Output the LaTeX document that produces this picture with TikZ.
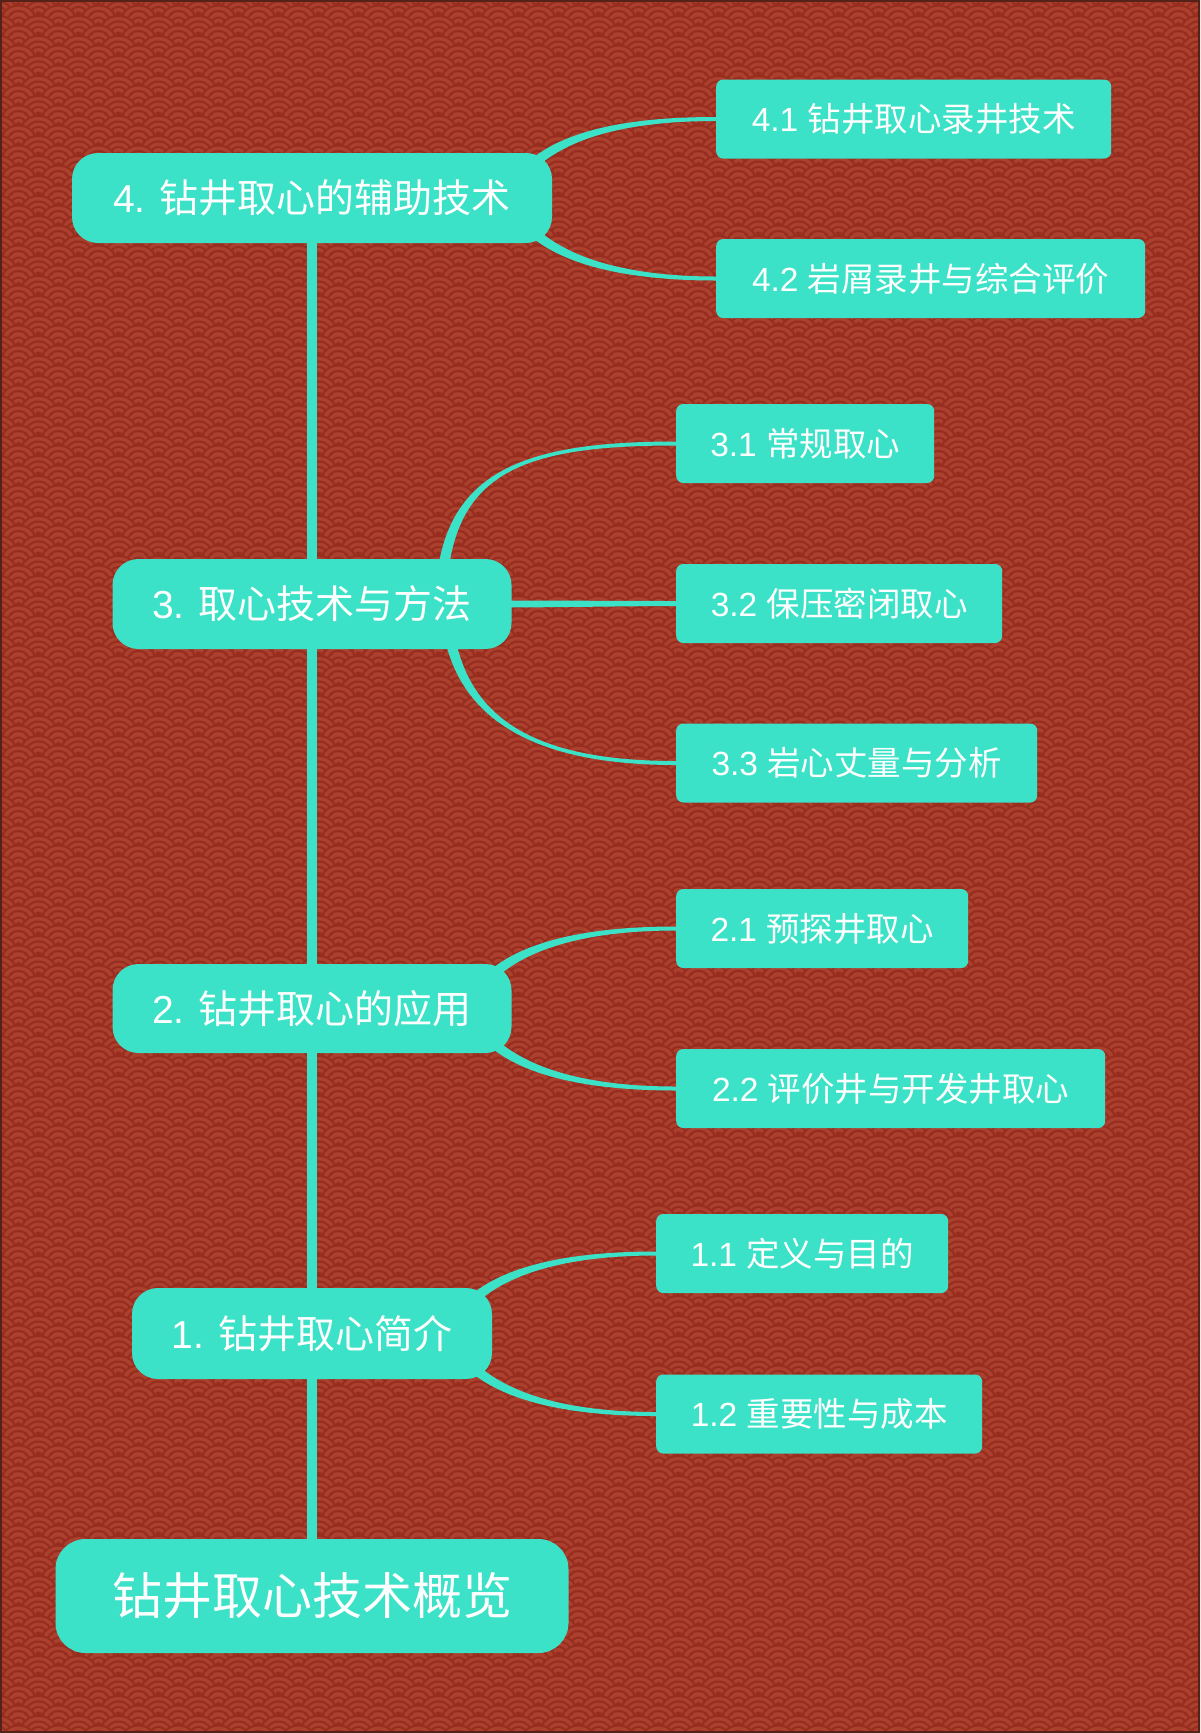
\documentclass[tikz,border=0pt]{standalone}
\usepackage{fontspec}
\setmainfont{Liberation Sans}
\newfontfamily\cjk{Noto Sans CJK SC}
\usetikzlibrary{calc,patterns}
\definecolor{bglight}{RGB}{172,64,46}
\definecolor{bgdark}{RGB}{151,45,31}
\definecolor{teal1}{RGB}{60,226,199}
\definecolor{frame1}{RGB}{84,34,24}
\newcommand\sgunit[2]{%
  \pgfsetfillcolor{bgdark}\pgfpathcircle{\pgfpoint{#1pt}{#2pt}}{20pt}\pgfusepath{fill}%
  \pgfsetfillcolor{bglight}\pgfpathcircle{\pgfpoint{#1pt}{#2pt}}{17.8pt}\pgfusepath{fill}%
  \pgfsetfillcolor{bgdark}\pgfpathcircle{\pgfpoint{#1pt}{#2pt}}{14.2pt}\pgfusepath{fill}%
  \pgfsetfillcolor{bglight}\pgfpathcircle{\pgfpoint{#1pt}{#2pt}}{12pt}\pgfusepath{fill}%
  \pgfsetfillcolor{bgdark}\pgfpathcircle{\pgfpoint{#1pt}{#2pt}}{8.4pt}\pgfusepath{fill}%
  \pgfsetfillcolor{bglight}\pgfpathcircle{\pgfpoint{#1pt}{#2pt}}{6.2pt}\pgfusepath{fill}%
  \pgfsetfillcolor{bgdark}\pgfpathcircle{\pgfpoint{#1pt}{#2pt}}{2.6pt}\pgfusepath{fill}%
}
\pgfdeclarepatterninherentlycolored{seigaiha}{\pgfpointorigin}{\pgfpoint{40pt}{20pt}}{\pgfpoint{40pt}{20pt}}{%
  \pgfsetfillcolor{bglight}%
  \pgfpathrectangle{\pgfpointorigin}{\pgfpoint{40pt}{20pt}}\pgfusepath{fill}%
  \sgunit{0}{40}\sgunit{40}{40}%
  \sgunit{-20}{30}\sgunit{20}{30}\sgunit{60}{30}%
  \sgunit{0}{20}\sgunit{40}{20}%
  \sgunit{-20}{10}\sgunit{20}{10}\sgunit{60}{10}%
  \sgunit{0}{0}\sgunit{40}{0}%
  \sgunit{-20}{-10}\sgunit{20}{-10}\sgunit{60}{-10}%
  \sgunit{0}{-20}\sgunit{40}{-20}%
}
\pgfdeclarelayer{bg}
\pgfsetlayers{bg,main}
% tapered connector: start, control 1, control 2, end, half width at start, half width at end
\newcommand\taper[6]{%
  \path #1 coordinate (tS) #2 coordinate (tA) #3 coordinate (tB) #4 coordinate (tE);
  \coordinate (tS1) at ($(tS)!#5!90:(tA)$);
  \coordinate (tS2) at ($(tS)!#5!-90:(tA)$);
  \coordinate (tE1) at ($(tE)!#6!-90:(tB)$);
  \coordinate (tE2) at ($(tE)!#6!90:(tB)$);
  \coordinate (tA1) at ($(tA)+(tS1)-(tS)$);
  \coordinate (tA2) at ($(tA)+(tS2)-(tS)$);
  \coordinate (tB1) at ($(tB)+(tE1)-(tE)$);
  \coordinate (tB2) at ($(tB)+(tE2)-(tE)$);
  \fill[teal1] (tS1) .. controls (tA1) and (tB1) .. (tE1) -- (tE2) .. controls (tB2) and (tA2) .. (tS2) -- cycle;
}
\begin{document}
\begin{tikzpicture}[x=1pt,y=-1pt,
  lvlbox/.style={fill=teal1,text=white,rounded corners=26pt,inner sep=0pt,font=\fontsize{39}{46}\selectfont},
  leafbox/.style={fill=teal1,text=white,rounded corners=7pt,inner sep=0pt,minimum height=79pt,anchor=west,font=\fontsize{33.5}{40}\selectfont},
  rootbox/.style={fill=teal1,text=white,rounded corners=30pt,inner sep=0pt,font=\fontsize{50}{60}\selectfont},
  trunk/.style={draw=teal1,line width=10pt},
]
\useasboundingbox (0,0) rectangle (1200,1733);

% nodes
\node[rootbox,minimum width=513pt,minimum height=114pt] (root) at (312,1596) {{\cjk 钻井取心技术概览}};
\node[lvlbox,minimum width=360pt,minimum height=91pt] (n1) at (312,1333.5) {1. {\cjk 钻井取心简介}};
\node[lvlbox,minimum width=399pt,minimum height=89pt] (n2) at (312,1008.5) {2. {\cjk 钻井取心的应用}};
\node[lvlbox,minimum width=399pt,minimum height=90pt] (n3) at (312,604) {3. {\cjk 取心技术与方法}};
\node[lvlbox,minimum width=480pt,minimum height=90pt] (n4) at (312,198) {4. {\cjk 钻井取心的辅助技术}};

\node[leafbox,minimum width=395pt] (n41) at (716,119) {4.1 {\cjk 钻井取心录井技术}};
\node[leafbox,minimum width=429pt] (n42) at (716,278.5) {4.2 {\cjk 岩屑录井与综合评价}};
\node[leafbox,minimum width=258pt] (n31) at (676,443.5) {3.1 {\cjk 常规取心}};
\node[leafbox,minimum width=326pt] (n32) at (676,603.5) {3.2 {\cjk 保压密闭取心}};
\node[leafbox,minimum width=361pt] (n33) at (676,763) {3.3 {\cjk 岩心丈量与分析}};
\node[leafbox,minimum width=292pt] (n21) at (676,928.5) {2.1 {\cjk 预探井取心}};
\node[leafbox,minimum width=429pt] (n22) at (676,1088.5) {2.2 {\cjk 评价井与开发井取心}};
\node[leafbox,minimum width=292pt] (n11) at (656,1253.5) {1.1 {\cjk 定义与目的}};
\node[leafbox,minimum width=326pt] (n12) at (656,1414) {1.2 {\cjk 重要性与成本}};

\begin{pgfonlayer}{bg}
\fill[bglight] (0,0) rectangle (1200,1733);
\fill[pattern=seigaiha] (0,0) rectangle (1200,1733);

% trunk
\draw[trunk] (root.north) -- (n1.south);
\draw[trunk] (n1.north) -- (n2.south);
\draw[trunk] (n2.north) -- (n3.south);
\draw[trunk] (n3.north) -- (n4.south);

% branches of 4
\taper{($(n4.east)+(-30,-23)$)}{($(n4.east)+(8,-68)$)}{($(n41.west)+(-76,0)$)}{(n41.west)}{5pt}{2pt}
\taper{($(n4.east)+(-30,23)$)}{($(n4.east)+(8,68)$)}{($(n42.west)+(-76,0)$)}{(n42.west)}{5pt}{2pt}
% branches of 3
\taper{($(n3.east)+(-71,0)$)}{($(n3.east)+(-69,-129)$)}{($(n31.west)+(-161,0)$)}{(n31.west)}{5.5pt}{2pt}
\taper{($(n3.east)+(-20,0)$)}{($(n3.east)+(40,0)$)}{($(n32.west)+(-40,0)$)}{(n32.west)}{3.5pt}{2.5pt}
\taper{($(n3.east)+(-66,0)$)}{($(n3.east)+(-61,106)$)}{($(n33.west)+(-156,0)$)}{(n33.west)}{5.5pt}{2pt}
% branches of 2
\taper{($(n2.east)+(-30,-23)$)}{($(n2.east)+(8,-68)$)}{($(n21.west)+(-76,0)$)}{(n21.west)}{5pt}{2pt}
\taper{($(n2.east)+(-30,23)$)}{($(n2.east)+(8,68)$)}{($(n22.west)+(-76,0)$)}{(n22.west)}{5pt}{2pt}
% branches of 1
\taper{($(n1.east)+(-30,-23)$)}{($(n1.east)+(8,-68)$)}{($(n11.west)+(-76,0)$)}{(n11.west)}{5pt}{2pt}
\taper{($(n1.east)+(-30,23)$)}{($(n1.east)+(8,68)$)}{($(n12.west)+(-76,0)$)}{(n12.west)}{5pt}{2pt}
\end{pgfonlayer}

\draw[frame1,line width=2pt] (1,1) rectangle (1199,1732);
\end{tikzpicture}
\end{document}
